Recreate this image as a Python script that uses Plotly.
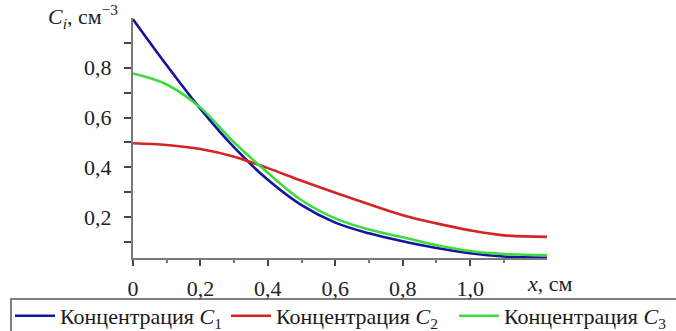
import plotly.graph_objects as go

# Data
x_vals = [0.0, 0.1, 0.2, 0.3, 0.4, 0.5, 0.6, 0.7, 0.8, 0.9, 1.0, 1.1, 1.23]
c1_vals = [0.995, 0.810, 0.635, 0.480, 0.350, 0.248, 0.178, 0.135, 0.103, 0.076, 0.055, 0.042, 0.037]
c2_vals = [0.497, 0.490, 0.474, 0.443, 0.397, 0.346, 0.298, 0.252, 0.208, 0.175, 0.147, 0.127, 0.121]
c3_vals = [0.777, 0.733, 0.640, 0.500, 0.378, 0.268, 0.195, 0.150, 0.119, 0.087, 0.064, 0.052, 0.047]

series_names = ["Концентрация <i>C</i><sub>1</sub>",
                "Концентрация <i>C</i><sub>2</sub>",
                "Концентрация <i>C</i><sub>3</sub>"]
series_colors = ["#14149c", "#d42424", "#3ddc3d"]

x_tickvals = [0, 0.2, 0.4, 0.6, 0.8, 1.0]
x_ticktext = ["0", "0,2", "0,4", "0,6", "0,8", "1,0"]
x_minor = [0.1, 0.3, 0.5, 0.7, 0.9, 1.1]
y_tickvals = [0.1, 0.2, 0.3, 0.4, 0.5, 0.6, 0.7, 0.8, 0.9]
y_ticktext = ["", "0,2", "", "0,4", "", "0,6", "", "0,8", ""]

FONT = "Liberation Serif"
FS = 22

fig = go.Figure()
legends = ["legend", "legend2", "legend3"]
for name, ys, col, lg in zip(series_names, [c1_vals, c2_vals, c3_vals], series_colors, legends):
    fig.add_trace(go.Scatter(x=x_vals, y=ys, mode="lines", name=name,
                             line=dict(color=col, width=2.6, shape="spline", smoothing=1.0),
                             legend=lg))

W, H = 676, 331
ml, mr, mt, mb = 133, 129, 18, 73
pw = W - ml - mr
ph = H - mt - mb

def px_to_paper_x(p):
    return (p - ml) / pw

def py_to_paper_y(p):
    return (H - mb - p) / ph

leg_common = dict(orientation="h", xanchor="left", yanchor="middle",
                  font=dict(family=FONT, size=FS, color="#1a1a1a"),
                  bgcolor="rgba(0,0,0,0)", borderwidth=0, itemwidth=40)

fig.update_layout(
    width=W, height=H,
    margin=dict(l=ml, r=mr, t=mt, b=mb, pad=0, autoexpand=False),
    plot_bgcolor="white", paper_bgcolor="white",
    legend=dict(x=px_to_paper_x(10), y=py_to_paper_y(316), **leg_common),
    legend2=dict(x=px_to_paper_x(226), y=py_to_paper_y(316), **leg_common),
    legend3=dict(x=px_to_paper_x(454), y=py_to_paper_y(316), **leg_common),
    xaxis=dict(range=[0, 1.228], showgrid=False, zeroline=False, automargin=False,
               showline=True, linecolor="#7a7a7a", linewidth=2,
               tickvals=x_tickvals, ticktext=x_ticktext,
               ticks="outside", ticklen=6, tickwidth=1.5, tickcolor="#444444",
               ticklabelstandoff=4,
               tickfont=dict(family=FONT, size=FS, color="#222222"),
               minor=dict(tickvals=x_minor, ticks="outside", ticklen=3, tickcolor="#777777", showgrid=False)),
    yaxis=dict(range=[0.036, 1.0], showgrid=False, zeroline=False, automargin=False,
               showline=True, linecolor="#7a7a7a", linewidth=2,
               tickvals=y_tickvals, ticktext=y_ticktext,
               ticks="outside", ticklen=7, tickwidth=1.5, tickcolor="#444444",
               ticklabelstandoff=8,
               tickfont=dict(family=FONT, size=FS, color="#222222")),
    showlegend=True,
)

fig.add_annotation(xref="paper", yref="paper", x=px_to_paper_x(120), y=py_to_paper_y(16),
                   xanchor="right", yanchor="middle", showarrow=False,
                   text="<i>C<sub>i</sub></i>, см<sup>−3</sup>",
                   font=dict(family=FONT, size=FS, color="#222222"))
fig.add_annotation(xref="paper", yref="paper", x=px_to_paper_x(525), y=py_to_paper_y(283),
                   xanchor="left", yanchor="middle", showarrow=False,
                   text="<i>x</i>, см",
                   font=dict(family=FONT, size=FS, color="#222222"))

fig.add_shape(type="rect", xref="paper", yref="paper",
              x0=px_to_paper_x(11), x1=px_to_paper_x(690),
              y0=py_to_paper_y(345), y1=py_to_paper_y(299),
              line=dict(color="#808080", width=2), fillcolor="rgba(0,0,0,0)", layer="below")

css_js = (
    "document.body.style.margin='0px';"
    "var st=document.createElement('style');"
    "st.textContent='.js-plotly-plot svg text{font-family:\"Liberation Serif\",\"Times New Roman\",serif !important;}';"
    "document.head.appendChild(st);"
)
fig.write_html("out.html", config={"displayModeBar": False}, post_script=css_js)
